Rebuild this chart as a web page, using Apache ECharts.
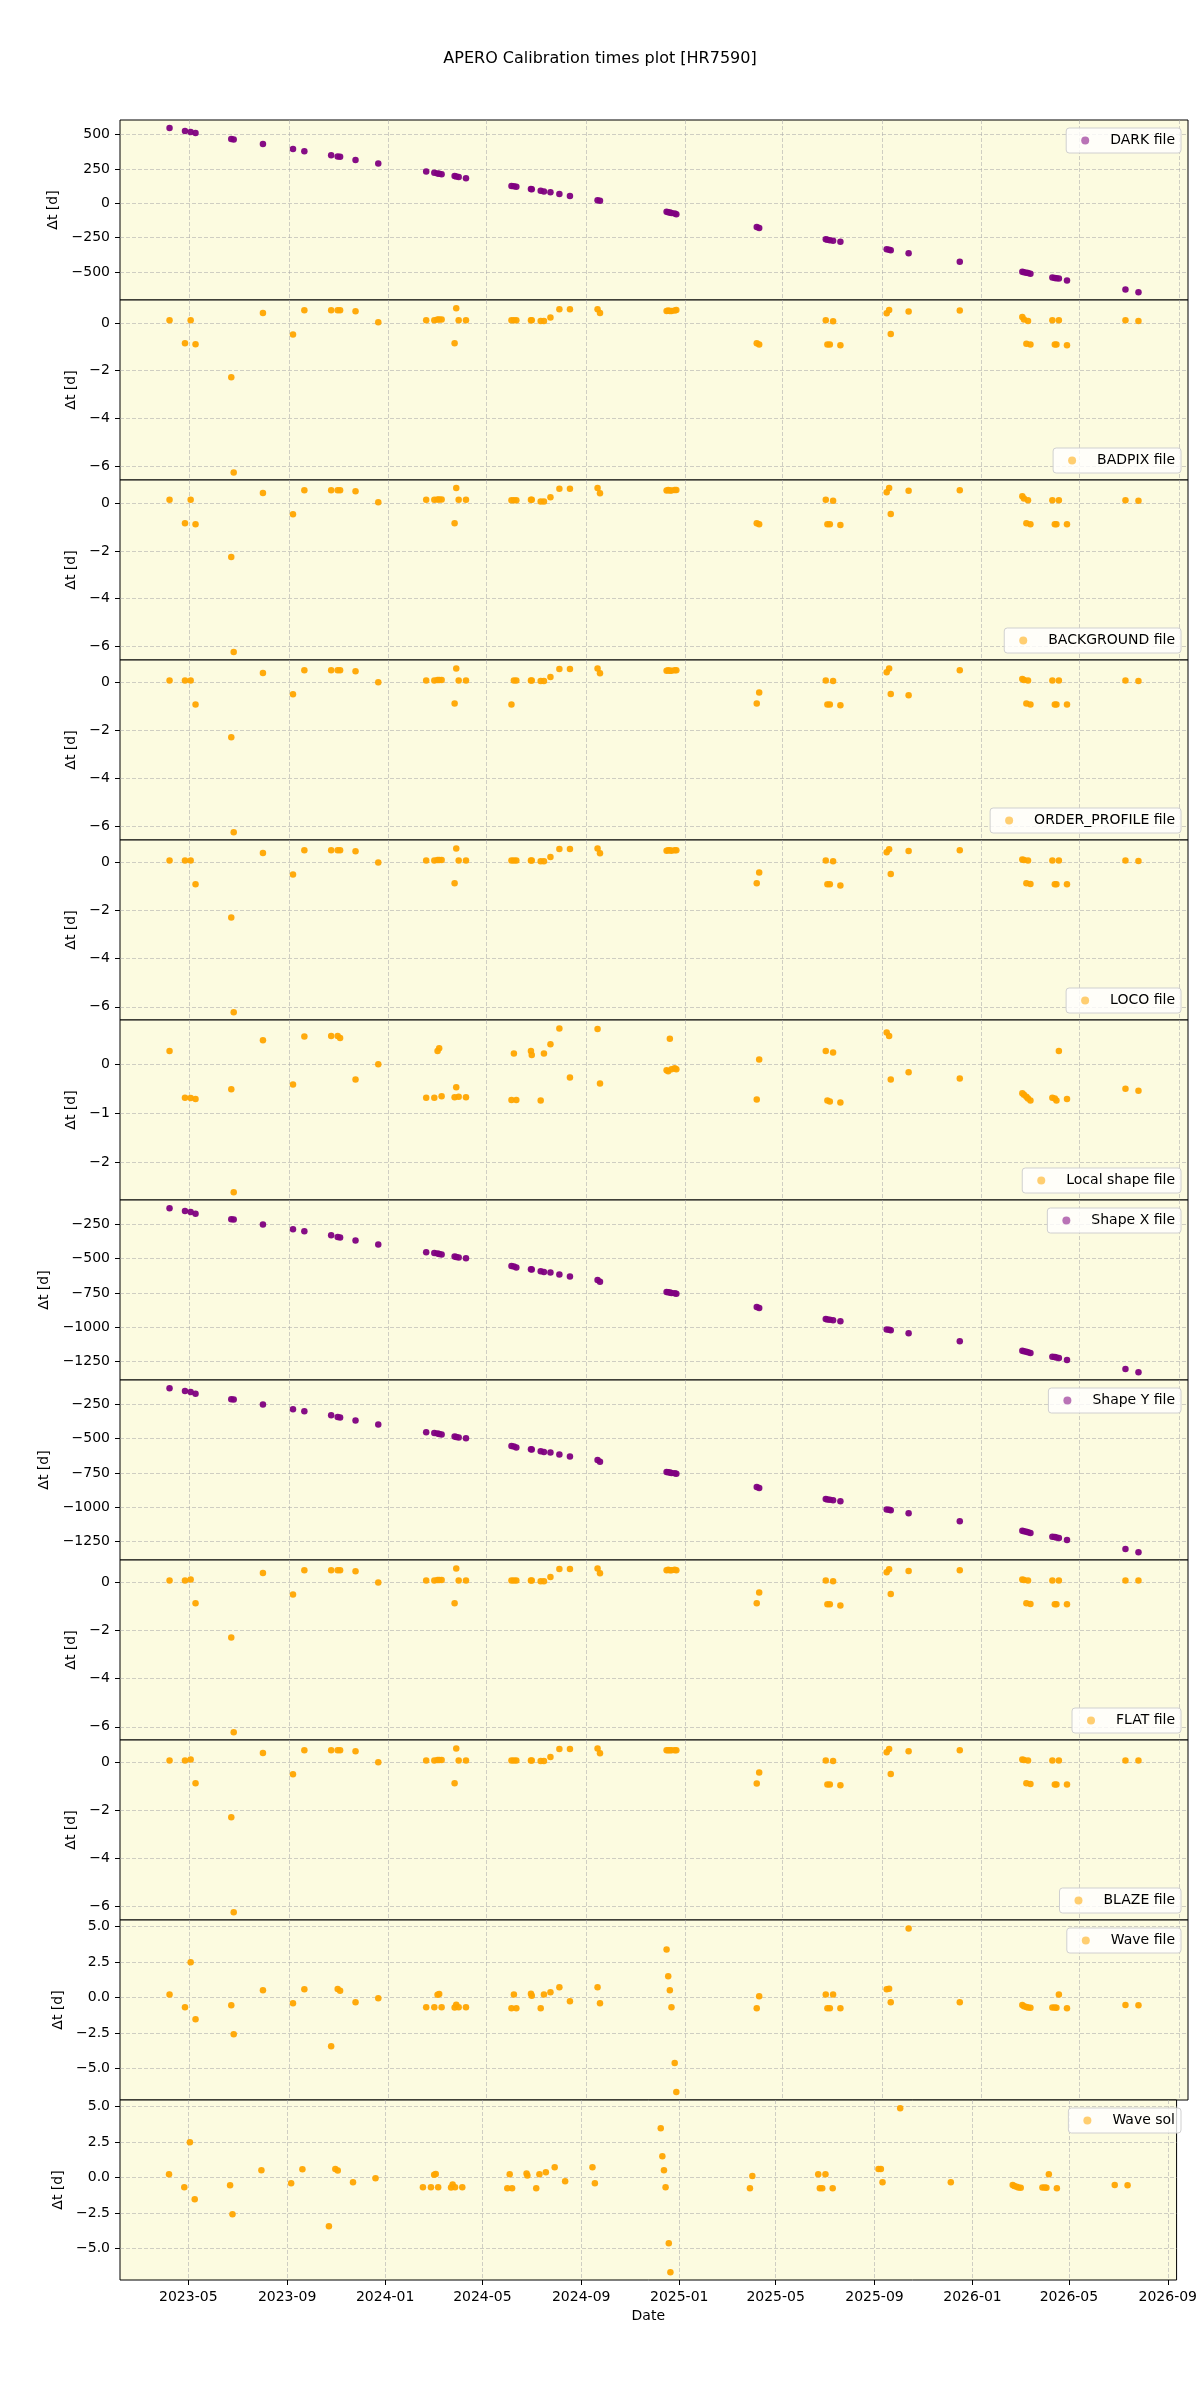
<!DOCTYPE html>
<html>
<head>
<meta charset="utf-8">
<title>APERO Calibration times plot [HR7590]</title>
<script src="https://cdn.jsdelivr.net/npm/echarts@6/dist/echarts.min.js"></script>
<style>
  html, body { margin: 0; padding: 0; background: #ffffff; }
  #chart { width: 1200px; height: 2400px; }
</style>
</head>
<body>
<div id="chart"></div>
<script>
// observation nights (shared by all panels)
const obsDates = [
  '2023-04-07', '2023-04-26', '2023-05-03', '2023-05-09', '2023-06-22', '2023-06-25', '2023-07-31',
  '2023-09-06', '2023-09-20', '2023-10-23', '2023-10-31', '2023-11-03', '2023-11-22', '2023-12-20',
  '2024-02-17', '2024-02-27', '2024-03-02', '2024-03-04', '2024-03-07', '2024-03-23', '2024-03-25',
  '2024-03-28', '2024-04-06',
  '2024-06-01', '2024-06-04', '2024-06-07', '2024-06-25', '2024-06-26', '2024-07-07', '2024-07-11',
  '2024-07-19', '2024-07-30', '2024-08-12', '2024-09-15', '2024-09-18',
  '2024-12-09', '2024-12-11', '2024-12-13', '2024-12-15', '2024-12-19', '2024-12-21',
  '2025-03-30', '2025-04-02',
  '2025-06-23', '2025-06-25', '2025-06-28', '2025-07-02', '2025-07-11', '2025-09-06', '2025-09-09',
  '2025-09-11', '2025-10-03', '2025-12-05',
  '2026-02-20', '2026-02-22', '2026-02-25', '2026-02-27', '2026-03-02', '2026-03-29', '2026-04-01',
  '2026-04-03', '2026-04-06', '2026-04-16', '2026-06-27', '2026-07-13'
]

const darkFile = [
  549, 527, 520, 512, 468, 465, 432, 395, 380, 351, 342, 339, 315, 290,
  231, 222, 218, 215, 212, 199, 195, 191, 182,
  127, 124, 120, 104, 103, 92, 87, 80, 68, 54, 22, 18,
  -62, -64, -67, -70, -74, -79, -173, -180,
  -262, -265, -268, -272, -279, -335, -338, -342, -364, -425,
  -498, -501, -505, -508, -512, -540, -543, -546, -548, -562, -627, -648
]
const badpixFile = [
  0.11, -0.85, 0.11, -0.89, -2.28, -6.27, 0.42, -0.48, 0.53, 0.53, 0.53, 0.53, 0.49, 0.03,
  0.11, 0.11, 0.15, 0.15, 0.15, -0.85, 0.62, 0.11, 0.11,
  0.11, 0.11, 0.11, 0.11, 0.11, 0.08, 0.08, 0.23, 0.58, 0.58, 0.58, 0.42,
  0.50, 0.52, 0.50, 0.50, 0.52, 0.55, -0.85, -0.90,
  0.11, -0.90, -0.90, 0.07, -0.93, 0.41, 0.55, -0.46, 0.48, 0.52,
  0.25, 0.15, -0.87, 0.08, -0.90, 0.11, -0.90, -0.90, 0.11, -0.93, 0.11, 0.08
]
const backgroundFile = [
  0.14, -0.84, 0.14, -0.88, -2.26, -6.23, 0.43, -0.46, 0.54, 0.54, 0.54, 0.54, 0.50, 0.04,
  0.14, 0.14, 0.15, 0.15, 0.15, -0.84, 0.63, 0.14, 0.14,
  0.12, 0.12, 0.12, 0.14, 0.14, 0.07, 0.07, 0.25, 0.60, 0.60, 0.63, 0.42,
  0.53, 0.55, 0.53, 0.53, 0.55, 0.55, -0.84, -0.88,
  0.14, -0.88, -0.88, 0.10, -0.92, 0.46, 0.63, -0.45, 0.52, 0.54,
  0.29, 0.20, -0.84, 0.12, -0.88, 0.12, -0.88, -0.88, 0.12, -0.88, 0.12, 0.10
]
const orderProfileFile = [
  0.08, 0.08, 0.08, -0.92, -2.29, -6.25, 0.39, -0.50, 0.50, 0.50, 0.50, 0.50, 0.46, 0.00,
  0.08, 0.08, 0.10, 0.10, 0.10, -0.88, 0.58, 0.08, 0.08,
  -0.92, 0.08, 0.08, 0.08, 0.08, 0.05, 0.05, 0.22, 0.56, 0.56, 0.58, 0.38,
  0.48, 0.50, 0.48, 0.48, 0.50, 0.50, -0.88, -0.42,
  0.08, -0.92, -0.92, 0.05, -0.96, 0.42, 0.58, -0.49, -0.54, 0.50,
  0.14, 0.10, -0.88, 0.08, -0.92, 0.08, -0.92, -0.92, 0.08, -0.92, 0.08, 0.06
]
const locoFile = [
  0.08, 0.08, 0.08, -0.91, -2.29, -6.23, 0.39, -0.50, 0.50, 0.50, 0.50, 0.50, 0.46, 0.00,
  0.08, 0.08, 0.10, 0.10, 0.10, -0.87, 0.58, 0.08, 0.08,
  0.08, 0.08, 0.08, 0.08, 0.08, 0.05, 0.05, 0.22, 0.56, 0.56, 0.58, 0.38,
  0.48, 0.50, 0.50, 0.48, 0.50, 0.50, -0.87, -0.42,
  0.08, -0.91, -0.91, 0.05, -0.96, 0.42, 0.55, -0.48, 0.47, 0.50,
  0.12, 0.10, -0.87, 0.08, -0.90, 0.08, -0.91, -0.91, 0.08, -0.91, 0.08, 0.06
]
const localShapeFile = [
  0.27, -0.68, -0.69, -0.71, -0.51, -2.61, 0.49, -0.41, 0.57, 0.58, 0.58, 0.54, -0.31, 0.00,
  -0.68, -0.68, 0.27, 0.33, -0.65, -0.67, -0.47, -0.66, -0.67,
  -0.73, 0.22, -0.73, 0.27, 0.19, -0.74, 0.22, 0.41, 0.73, -0.27, 0.72, -0.39,
  -0.12, -0.14, 0.52, -0.10, -0.08, -0.10, -0.72, 0.10,
  0.27, -0.74, -0.76, 0.24, -0.78, 0.65, 0.58, -0.31, -0.16, -0.29,
  -0.59, -0.62, -0.66, -0.70, -0.74, -0.68, -0.70, -0.74, 0.27, -0.71, -0.50, -0.54
]
const shapeXFile = [
  -133, -153, -160, -172, -213, -215, -250, -286, -301, -330, -343, -346, -367, -396,
  -454, -459, -462, -466, -470, -484, -488, -491, -498,
  -554, -558, -564, -578, -580, -593, -598, -601, -615, -630, -656, -668,
  -743, -745, -748, -750, -753, -756, -853, -860,
  -941, -944, -947, -950, -958, -1017, -1020, -1023, -1045, -1104,
  -1172, -1176, -1180, -1184, -1188, -1216, -1219, -1222, -1226, -1240, -1306, -1330
]
const shapeYFile = [
  -133, -153, -160, -172, -213, -215, -250, -286, -301, -330, -343, -346, -367, -396,
  -454, -459, -462, -466, -470, -484, -488, -491, -498,
  -554, -558, -564, -578, -580, -593, -598, -601, -615, -630, -656, -668,
  -743, -745, -748, -750, -753, -756, -853, -860,
  -941, -944, -947, -950, -958, -1017, -1020, -1023, -1045, -1104,
  -1172, -1176, -1180, -1184, -1188, -1216, -1219, -1222, -1226, -1240, -1306, -1330
]
const flatFile = [
  0.08, 0.08, 0.12, -0.87, -2.29, -6.23, 0.39, -0.50, 0.50, 0.50, 0.50, 0.50, 0.46, 0.00,
  0.08, 0.08, 0.10, 0.10, 0.10, -0.87, 0.58, 0.08, 0.08,
  0.08, 0.08, 0.08, 0.08, 0.08, 0.05, 0.05, 0.22, 0.56, 0.56, 0.58, 0.38,
  0.50, 0.52, 0.50, 0.50, 0.52, 0.50, -0.87, -0.42,
  0.08, -0.91, -0.91, 0.05, -0.96, 0.42, 0.55, -0.48, 0.47, 0.50,
  0.12, 0.10, -0.87, 0.08, -0.90, 0.08, -0.91, -0.91, 0.08, -0.91, 0.08, 0.08
]
const blazeFile = [
  0.08, 0.08, 0.12, -0.87, -2.29, -6.25, 0.39, -0.50, 0.50, 0.50, 0.50, 0.50, 0.46, 0.00,
  0.08, 0.08, 0.10, 0.10, 0.10, -0.87, 0.58, 0.08, 0.08,
  0.08, 0.08, 0.08, 0.08, 0.08, 0.05, 0.05, 0.22, 0.56, 0.56, 0.58, 0.38,
  0.50, 0.50, 0.50, 0.50, 0.50, 0.50, -0.88, -0.42,
  0.08, -0.92, -0.92, 0.05, -0.96, 0.42, 0.56, -0.49, 0.46, 0.50,
  0.12, 0.10, -0.87, 0.08, -0.90, 0.08, -0.92, -0.92, 0.08, -0.92, 0.08, 0.08
]
const waveFile = [
  0.23, -0.68, 2.49, -1.53, -0.54, -2.58, 0.52, -0.40, 0.59, -3.43, 0.61, 0.49, -0.33, -0.05,
  -0.68, -0.68, 0.20, 0.25, -0.68, -0.70, -0.50, -0.68, -0.68,
  -0.75, 0.23, -0.75, 0.28, 0.14, -0.75, 0.23, 0.38, 0.73, -0.26, 0.73, -0.40,
  3.40, 1.50, 0.52, -0.68, -4.60, -6.65, -0.75, 0.10,
  0.23, -0.75, -0.75, 0.23, -0.75, 0.60, 0.62, -0.33, 4.88, -0.33,
  -0.52, -0.60, -0.65, -0.70, -0.72, -0.70, -0.70, -0.72, 0.23, -0.75, -0.52, -0.54
]
const waveSol = [
  0.24, -0.68, 2.49, -1.53, -0.54, -2.59, 0.52, -0.40, 0.59, -3.44, 0.61, 0.49, -0.33, -0.05,
  -0.68, -0.68, 0.20, 0.25, -0.68, -0.70, -0.50, -0.68, -0.68,
  -0.75, 0.23, -0.75, 0.28, 0.14, -0.75, 0.23, 0.38, 0.73, -0.26, 0.73, -0.40,
  3.48, 1.50, 0.52, -0.68, -4.64, -6.68, -0.75, 0.10,
  0.23, -0.75, -0.75, 0.23, -0.75, 0.61, 0.61, -0.33, 4.89, -0.33,
  -0.52, -0.60, -0.65, -0.70, -0.72, -0.70, -0.70, -0.72, 0.23, -0.75, -0.52, -0.54
]

// tick labels
const xTickDates = ['2023-05-01', '2023-09-01', '2024-01-01', '2024-05-01', '2024-09-01', '2025-01-01',
  '2025-05-01', '2025-09-01', '2026-01-01', '2026-05-01', '2026-09-01']
const darkTicks = [-500, -250, 0, 250, 500]
const smallTicks = [-6, -4, -2, 0]
const localTicks = [-2, -1, 0]
const shapeTicks = [-1250, -1000, -750, -500, -250]
const waveTicks = [-5, -2.5, 0, 2.5, 5]

const ORANGE = '#ffa500'
const PURPLE = '#800080'
const FONT = 'DejaVu Sans'

const panels = [
  { name: 'DARK file', values: darkFile, color: PURPLE, min: -704, max: 607, ticks: darkTicks, gap: 56, legendTop: true },
  { name: 'BADPIX file', values: badpixFile, color: ORANGE, min: -6.59, max: 0.965, ticks: smallTicks, gap: 39 },
  { name: 'BACKGROUND file', values: backgroundFile, color: ORANGE, min: -6.57, max: 0.97, ticks: smallTicks, gap: 39 },
  { name: 'ORDER_PROFILE file', values: orderProfileFile, color: ORANGE, min: -6.57, max: 0.93, ticks: smallTicks, gap: 39 },
  { name: 'LOCO file', values: locoFile, color: ORANGE, min: -6.55, max: 0.93, ticks: smallTicks, gap: 39 },
  { name: 'Local shape file', values: localShapeFile, color: ORANGE, min: -2.77, max: 0.905, ticks: localTicks, gap: 39 },
  { name: 'Shape X file', values: shapeXFile, color: PURPLE, min: -1386, max: -72, ticks: shapeTicks, gap: 65, legendTop: true },
  { name: 'Shape Y file', values: shapeYFile, color: PURPLE, min: -1386, max: -72, ticks: shapeTicks, gap: 65, legendTop: true },
  { name: 'FLAT file', values: flatFile, color: ORANGE, min: -6.55, max: 0.93, ticks: smallTicks, gap: 39 },
  { name: 'BLAZE file', values: blazeFile, color: ORANGE, min: -6.57, max: 0.93, ticks: smallTicks, gap: 39 },
  { name: 'Wave file', values: waveFile, color: ORANGE, min: -7.21, max: 5.47, ticks: waveTicks, gap: 52, legendTop: true, decimals: 1 },
  { name: 'Wave sol', values: waveSol, color: ORANGE, min: -7.23, max: 5.47, ticks: waveTicks, gap: 52, legendTop: true, decimals: 1 }
]

const ts = d => Date.parse(d + 'T00:00:00Z')
const minus = s => String(s).replace('-', '\u2212')
const pad2 = n => (n < 10 ? '0' : '') + n

const PANEL_TOP = 120
const PANEL_H = 180
const gridLine = { show: true, lineStyle: { color: 'rgba(170,170,170,0.55)', width: 1, type: [4, 2] } }
const last = panels.length - 1

const option = {
  animation: false,
  backgroundColor: '#ffffff',
  title: {
    text: 'APERO Calibration times plot [HR7590]',
    left: 'center',
    top: 46,
    textStyle: { fontFamily: FONT, fontSize: 16, fontWeight: 'normal', color: '#000' }
  },
  grid: panels.map((p, i) => ({
    left: 120,
    right: 12,
    top: PANEL_TOP + PANEL_H * i,
    height: PANEL_H,
    show: true,
    backgroundColor: '#fcfbe0',
    borderColor: '#000',
    borderWidth: 1
  })),
  xAxis: panels.map((p, i) => ({
    type: 'value',
    gridIndex: i,
    position: 'bottom',
    min: ts('2023-02-05'),
    max: ts('2026-09-12'),
    name: i === last ? 'Date' : '',
    nameLocation: 'middle',
    nameGap: 29,
    nameTextStyle: { fontFamily: FONT, fontSize: 14, color: '#000' },
    axisLine: { show: false, onZero: false },
    axisTick: { show: i === last, length: 5, lineStyle: { color: '#000' }, customValues: xTickDates.map(ts) },
    axisLabel: {
      show: i === last,
      customValues: xTickDates.map(ts),
      margin: 10,
      fontFamily: FONT,
      fontSize: 14,
      color: '#000',
      formatter: v => {
        const d = new Date(v)
        return d.getUTCFullYear() + '-' + pad2(d.getUTCMonth() + 1)
      }
    },
    splitLine: gridLine
  })),
  yAxis: panels.map((p, i) => ({
    type: 'value',
    gridIndex: i,
    position: 'left',
    min: p.min,
    max: p.max,
    name: '\u0394t [d]',
    nameLocation: 'middle',
    nameGap: p.gap,
    nameTextStyle: { fontFamily: FONT, fontSize: 14, color: '#000' },
    axisLine: { show: false, onZero: false },
    axisTick: { show: true, length: 5, lineStyle: { color: '#000' }, customValues: p.ticks },
    axisLabel: {
      customValues: p.ticks,
      margin: 10,
      fontFamily: FONT,
      fontSize: 14,
      color: '#000',
      formatter: v => minus(p.decimals ? v.toFixed(p.decimals) : v)
    },
    splitLine: gridLine
  })),
  legend: panels.map((p, i) => ({
    data: [p.name],
    right: 19,
    top: PANEL_TOP + PANEL_H * i + (p.legendTop ? 8 : 148),
    padding: [5, 6, 5, 15],
    backgroundColor: 'rgba(255,255,255,0.8)',
    borderColor: '#d0d0d0',
    borderWidth: 1,
    borderRadius: 3,
    icon: 'circle',
    itemWidth: 8,
    itemHeight: 8,
    itemStyle: { opacity: 0.55 },
    formatter: '{pad| }{name}',
    selectedMode: false,
    textStyle: {
      fontFamily: FONT,
      fontSize: 14,
      color: '#000',
      lineHeight: 15,
      rich: { pad: { width: 16 } }
    }
  })),
  series: panels.map((p, i) => ({
    type: 'scatter',
    name: p.name,
    xAxisIndex: i,
    yAxisIndex: i,
    symbolSize: 6.5,
    itemStyle: { color: p.color, opacity: 0.95 },
    data: obsDates.map((d, k) => [ts(d), p.values[k]])
  }))
}

const chart = echarts.init(document.getElementById('chart'), null, { renderer: 'canvas' })
chart.setOption(option)
</script>
</body>
</html>
